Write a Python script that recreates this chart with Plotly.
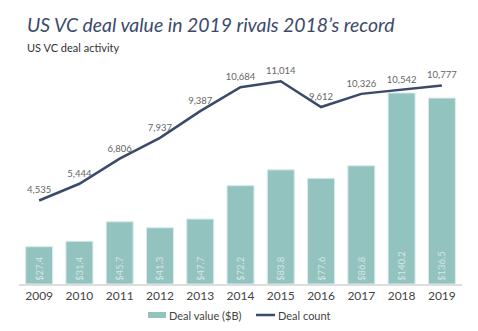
import plotly.graph_objects as go

years = ["2009", "2010", "2011", "2012", "2013", "2014", "2015", "2016", "2017", "2018", "2019"]
deal_value = [27.4, 31.4, 45.7, 41.3, 47.7, 72.2, 83.8, 77.6, 86.8, 140.2, 136.5]
deal_count = [4535, 5444, 6806, 7937, 9387, 10684, 11014, 9612, 10326, 10542, 10777]

BAR = "#93c3bf"
LINE = "#3b4a6b"
FONT = "Lato"

W, H = 478, 331
ML, MR, MT, MB = 19, 16, 66, 47
PW, PH = W - ML - MR, H - MT - MB


def px_x(x):
    return (x - ML) / PW


def px_y(y):
    return (H - MB - y) / PH


fig = go.Figure()

fig.add_trace(go.Bar(
    x=years, y=deal_value, name="Deal value ($B)",
    marker=dict(color=BAR, line=dict(color="#d9ecea", width=1)),
    text=[f"${v:.1f}" for v in deal_value],
    textposition="inside", insidetextanchor="start", textangle=-90,
    textfont=dict(family=FONT, size=9.5, color="rgba(255,255,255,0.6)"),
    cliponaxis=False,
))

fig.add_trace(go.Scatter(
    x=years, y=deal_count, name="Deal count", yaxis="y2",
    mode="lines+markers+text", line=dict(color=LINE, width=2.5),
    marker=dict(size=6, opacity=0),
    text=[f"{v:,}" for v in deal_count], textposition="top center",
    textfont=dict(family=FONT, size=9.5, color="#666666"),
    cliponaxis=False,
))

# legend drawn by hand for a compact layout
shapes = [
    dict(type="rect", xref="paper", yref="paper",
         x0=px_x(148), x1=px_x(166), y0=px_y(318), y1=px_y(312),
         fillcolor=BAR, line=dict(width=0)),
    dict(type="line", xref="paper", yref="paper",
         x0=px_x(256), x1=px_x(275), y0=px_y(315), y1=px_y(315),
         line=dict(color=LINE, width=2.5)),
]

annotations = [
    dict(text="<i>US VC deal value in 2019 rivals 2018\u2019s record</i>",
         xref="paper", yref="paper", x=px_x(25), y=px_y(38), xanchor="left", yanchor="bottom",
         showarrow=False, font=dict(family=FONT, size=19.4, color="#3b4a6b")),
    dict(text="US VC deal activity",
         xref="paper", yref="paper", x=px_x(25), y=px_y(56), xanchor="left", yanchor="bottom",
         showarrow=False, font=dict(family=FONT, size=11, color="#333333")),
    dict(text="Deal value ($B)", xref="paper", yref="paper",
         x=px_x(167), y=px_y(315), xanchor="left", yanchor="middle",
         showarrow=False, font=dict(family=FONT, size=11, color="#444444")),
    dict(text="Deal count", xref="paper", yref="paper",
         x=px_x(276), y=px_y(315), xanchor="left", yanchor="middle",
         showarrow=False, font=dict(family=FONT, size=11, color="#444444")),
]

fig.update_layout(
    width=W, height=H,
    margin=dict(l=ML, r=MR, t=MT, b=MB, autoexpand=False),
    paper_bgcolor="white", plot_bgcolor="white",
    font=dict(family=FONT, color="#444444"),
    bargap=0.33,
    showlegend=False,
    xaxis=dict(type="category", range=[-0.5, 10.5], showgrid=False,
               showline=True, linecolor="#dddddd", linewidth=1.5, ticks="",
               tickfont=dict(family=FONT, size=12, color="#444444")),
    yaxis=dict(range=[0, 160], visible=False, showgrid=False),
    yaxis2=dict(range=[0, 11840], overlaying="y", visible=False, showgrid=False),
    shapes=shapes,
    annotations=annotations,
)

fig.write_html("out.html")
